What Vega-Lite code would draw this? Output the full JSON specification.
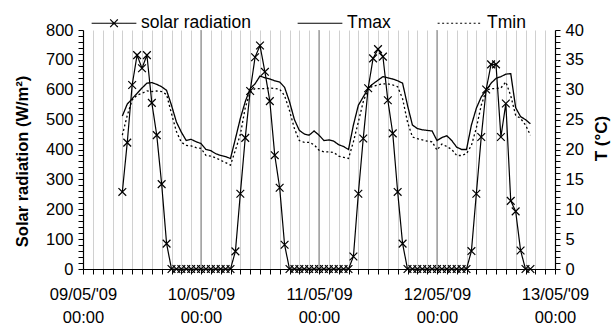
{
  "$schema": "https://vega.github.io/schema/vega-lite/v6.json",
  "autosize": {"type": "none"},
  "padding": {"left": 83, "top": 30, "right": 60, "bottom": 60},
  "width": 472,
  "height": 239,
  "background": "white",
  "config": {
    "font": "Liberation Sans",
    "view": {"stroke": null},
    "axis": {"labelFont": "Liberation Sans", "labelColor": "black", "titleColor": "black", "domainColor": "black", "tickColor": "black", "labelFontSize": 16.5}
  },
  "data": {"values": [
    {"t": "2009-05-09T08:00:00", "sr": 258, "Tmax": 25.6, "Tmin": 22.4},
    {"t": "2009-05-09T09:00:00", "sr": 423, "Tmax": 27.6, "Tmin": 25.7},
    {"t": "2009-05-09T10:00:00", "sr": 616, "Tmax": 28.5, "Tmin": 28.3},
    {"t": "2009-05-09T11:00:00", "sr": 716, "Tmax": 29.4, "Tmin": 29.1},
    {"t": "2009-05-09T12:00:00", "sr": 672, "Tmax": 30.3, "Tmin": 29.4},
    {"t": "2009-05-09T13:00:00", "sr": 716, "Tmax": 31.1, "Tmin": 29.8},
    {"t": "2009-05-09T14:00:00", "sr": 556, "Tmax": 31.2, "Tmin": 29.7},
    {"t": "2009-05-09T15:00:00", "sr": 448, "Tmax": 30.9, "Tmin": 29.8},
    {"t": "2009-05-09T16:00:00", "sr": 284, "Tmax": 30.5, "Tmin": 29.7},
    {"t": "2009-05-09T17:00:00", "sr": 85, "Tmax": 29.9, "Tmin": 29.2},
    {"t": "2009-05-09T18:00:00", "sr": 0, "Tmax": 27.4, "Tmin": 26.0},
    {"t": "2009-05-09T19:00:00", "sr": 0, "Tmax": 24.6, "Tmin": 23.0},
    {"t": "2009-05-09T20:00:00", "sr": 0, "Tmax": 22.9, "Tmin": 21.2},
    {"t": "2009-05-09T21:00:00", "sr": 0, "Tmax": 21.5, "Tmin": 20.7},
    {"t": "2009-05-09T22:00:00", "sr": 0, "Tmax": 21.7, "Tmin": 20.6},
    {"t": "2009-05-09T23:00:00", "sr": 0, "Tmax": 21.3, "Tmin": 20.3},
    {"t": "2009-05-10T00:00:00", "sr": 0, "Tmax": 21.0, "Tmin": 20.2},
    {"t": "2009-05-10T01:00:00", "sr": 0, "Tmax": 20.0, "Tmin": 19.0},
    {"t": "2009-05-10T02:00:00", "sr": 0, "Tmax": 19.8, "Tmin": 18.9},
    {"t": "2009-05-10T03:00:00", "sr": 0, "Tmax": 19.3, "Tmin": 18.6},
    {"t": "2009-05-10T04:00:00", "sr": 0, "Tmax": 19.0, "Tmin": 18.2},
    {"t": "2009-05-10T05:00:00", "sr": 0, "Tmax": 18.8, "Tmin": 17.8},
    {"t": "2009-05-10T06:00:00", "sr": 0, "Tmax": 18.5, "Tmin": 17.4},
    {"t": "2009-05-10T07:00:00", "sr": 59, "Tmax": 21.8, "Tmin": 19.9},
    {"t": "2009-05-10T08:00:00", "sr": 252, "Tmax": 25.2, "Tmin": 22.5},
    {"t": "2009-05-10T09:00:00", "sr": 439, "Tmax": 28.0, "Tmin": 27.0},
    {"t": "2009-05-10T10:00:00", "sr": 596, "Tmax": 30.2, "Tmin": 29.6},
    {"t": "2009-05-10T11:00:00", "sr": 709, "Tmax": 31.0, "Tmin": 30.2},
    {"t": "2009-05-10T12:00:00", "sr": 748, "Tmax": 32.3, "Tmin": 30.2},
    {"t": "2009-05-10T13:00:00", "sr": 660, "Tmax": 32.0, "Tmin": 30.2},
    {"t": "2009-05-10T14:00:00", "sr": 562, "Tmax": 31.8, "Tmin": 30.3},
    {"t": "2009-05-10T15:00:00", "sr": 381, "Tmax": 31.5, "Tmin": 30.2},
    {"t": "2009-05-10T16:00:00", "sr": 272, "Tmax": 31.3, "Tmin": 30.1},
    {"t": "2009-05-10T17:00:00", "sr": 81, "Tmax": 30.4, "Tmin": 29.0},
    {"t": "2009-05-10T18:00:00", "sr": 0, "Tmax": 28.0, "Tmin": 26.5},
    {"t": "2009-05-10T19:00:00", "sr": 0, "Tmax": 25.0, "Tmin": 23.5},
    {"t": "2009-05-10T20:00:00", "sr": 0, "Tmax": 23.2, "Tmin": 21.5},
    {"t": "2009-05-10T21:00:00", "sr": 0, "Tmax": 22.6, "Tmin": 21.2},
    {"t": "2009-05-10T22:00:00", "sr": 0, "Tmax": 22.4, "Tmin": 21.2},
    {"t": "2009-05-10T23:00:00", "sr": 0, "Tmax": 23.1, "Tmin": 20.8},
    {"t": "2009-05-11T00:00:00", "sr": 0, "Tmax": 22.4, "Tmin": 19.9},
    {"t": "2009-05-11T01:00:00", "sr": 0, "Tmax": 21.5, "Tmin": 19.6},
    {"t": "2009-05-11T02:00:00", "sr": 0, "Tmax": 21.6, "Tmin": 19.6},
    {"t": "2009-05-11T03:00:00", "sr": 0, "Tmax": 21.4, "Tmin": 19.5},
    {"t": "2009-05-11T04:00:00", "sr": 0, "Tmax": 20.8, "Tmin": 18.9},
    {"t": "2009-05-11T05:00:00", "sr": 0, "Tmax": 20.5, "Tmin": 18.7},
    {"t": "2009-05-11T06:00:00", "sr": 0, "Tmax": 20.0, "Tmin": 18.5},
    {"t": "2009-05-11T07:00:00", "sr": 42, "Tmax": 24.1, "Tmin": 21.3},
    {"t": "2009-05-11T08:00:00", "sr": 252, "Tmax": 27.4, "Tmin": 24.6},
    {"t": "2009-05-11T09:00:00", "sr": 437, "Tmax": 28.8, "Tmin": 28.0},
    {"t": "2009-05-11T10:00:00", "sr": 605, "Tmax": 30.2, "Tmin": 30.2},
    {"t": "2009-05-11T11:00:00", "sr": 705, "Tmax": 31.0, "Tmin": 30.6},
    {"t": "2009-05-11T12:00:00", "sr": 736, "Tmax": 31.6, "Tmin": 30.8},
    {"t": "2009-05-11T13:00:00", "sr": 711, "Tmax": 32.2, "Tmin": 31.0},
    {"t": "2009-05-11T14:00:00", "sr": 565, "Tmax": 32.0, "Tmin": 31.0},
    {"t": "2009-05-11T15:00:00", "sr": 454, "Tmax": 31.8, "Tmin": 30.8},
    {"t": "2009-05-11T16:00:00", "sr": 258, "Tmax": 31.5, "Tmin": 30.5},
    {"t": "2009-05-11T17:00:00", "sr": 85, "Tmax": 31.1, "Tmin": 28.5},
    {"t": "2009-05-11T18:00:00", "sr": 0, "Tmax": 27.4, "Tmin": 24.6},
    {"t": "2009-05-11T19:00:00", "sr": 0, "Tmax": 24.1, "Tmin": 22.1},
    {"t": "2009-05-11T20:00:00", "sr": 0, "Tmax": 23.5, "Tmin": 21.8},
    {"t": "2009-05-11T21:00:00", "sr": 0, "Tmax": 23.3, "Tmin": 21.6},
    {"t": "2009-05-11T22:00:00", "sr": 0, "Tmax": 23.2, "Tmin": 21.4},
    {"t": "2009-05-11T23:00:00", "sr": 0, "Tmax": 23.1, "Tmin": 21.3},
    {"t": "2009-05-12T00:00:00", "sr": 0, "Tmax": 21.5, "Tmin": 19.9},
    {"t": "2009-05-12T01:00:00", "sr": 0, "Tmax": 22.0, "Tmin": 20.9},
    {"t": "2009-05-12T02:00:00", "sr": 0, "Tmax": 22.3, "Tmin": 20.5},
    {"t": "2009-05-12T03:00:00", "sr": 0, "Tmax": 21.5, "Tmin": 20.0},
    {"t": "2009-05-12T04:00:00", "sr": 0, "Tmax": 20.4, "Tmin": 19.0},
    {"t": "2009-05-12T05:00:00", "sr": 0, "Tmax": 20.0, "Tmin": 19.0},
    {"t": "2009-05-12T06:00:00", "sr": 0, "Tmax": 20.0, "Tmin": 19.3},
    {"t": "2009-05-12T07:00:00", "sr": 60, "Tmax": 24.1, "Tmin": 20.7},
    {"t": "2009-05-12T08:00:00", "sr": 252, "Tmax": 26.9, "Tmin": 23.6},
    {"t": "2009-05-12T09:00:00", "sr": 442, "Tmax": 28.8, "Tmin": 27.4},
    {"t": "2009-05-12T10:00:00", "sr": 601, "Tmax": 29.9, "Tmin": 29.9},
    {"t": "2009-05-12T11:00:00", "sr": 685, "Tmax": 31.1, "Tmin": 30.2},
    {"t": "2009-05-12T12:00:00", "sr": 685, "Tmax": 31.9, "Tmin": 30.2},
    {"t": "2009-05-12T13:00:00", "sr": 442, "Tmax": 32.2, "Tmin": 30.3},
    {"t": "2009-05-12T14:00:00", "sr": 554, "Tmax": 32.6, "Tmin": 31.3},
    {"t": "2009-05-12T15:00:00", "sr": 228, "Tmax": 32.7, "Tmin": 29.0},
    {"t": "2009-05-12T16:00:00", "sr": 193, "Tmax": 27.0, "Tmin": 25.7},
    {"t": "2009-05-12T17:00:00", "sr": 62, "Tmax": 25.5, "Tmin": 25.2},
    {"t": "2009-05-12T18:00:00", "sr": 0, "Tmax": 25.0, "Tmin": 24.1},
    {"t": "2009-05-12T19:00:00", "sr": 0, "Tmax": 24.3, "Tmin": 22.4}
  ]},
  "encoding": {
    "x": {
      "field": "t", "type": "temporal",
      "scale": {"domain": [{"year": 2009, "month": 5, "date": 9, "hours": 0}, {"year": 2009, "month": 5, "date": 13, "hours": 0}], "nice": false},
      "axis": {
        "orient": "bottom", "title": null,
        "values": [
          {"year": 2009, "month": 5, "date": 9, "hours": 0}, {"year": 2009, "month": 5, "date": 9, "hours": 2}, {"year": 2009, "month": 5, "date": 9, "hours": 4}, {"year": 2009, "month": 5, "date": 9, "hours": 6}, {"year": 2009, "month": 5, "date": 9, "hours": 8}, {"year": 2009, "month": 5, "date": 9, "hours": 10}, {"year": 2009, "month": 5, "date": 9, "hours": 12}, {"year": 2009, "month": 5, "date": 9, "hours": 14}, {"year": 2009, "month": 5, "date": 9, "hours": 16}, {"year": 2009, "month": 5, "date": 9, "hours": 18}, {"year": 2009, "month": 5, "date": 9, "hours": 20}, {"year": 2009, "month": 5, "date": 9, "hours": 22},
          {"year": 2009, "month": 5, "date": 10, "hours": 0}, {"year": 2009, "month": 5, "date": 10, "hours": 2}, {"year": 2009, "month": 5, "date": 10, "hours": 4}, {"year": 2009, "month": 5, "date": 10, "hours": 6}, {"year": 2009, "month": 5, "date": 10, "hours": 8}, {"year": 2009, "month": 5, "date": 10, "hours": 10}, {"year": 2009, "month": 5, "date": 10, "hours": 12}, {"year": 2009, "month": 5, "date": 10, "hours": 14}, {"year": 2009, "month": 5, "date": 10, "hours": 16}, {"year": 2009, "month": 5, "date": 10, "hours": 18}, {"year": 2009, "month": 5, "date": 10, "hours": 20}, {"year": 2009, "month": 5, "date": 10, "hours": 22},
          {"year": 2009, "month": 5, "date": 11, "hours": 0}, {"year": 2009, "month": 5, "date": 11, "hours": 2}, {"year": 2009, "month": 5, "date": 11, "hours": 4}, {"year": 2009, "month": 5, "date": 11, "hours": 6}, {"year": 2009, "month": 5, "date": 11, "hours": 8}, {"year": 2009, "month": 5, "date": 11, "hours": 10}, {"year": 2009, "month": 5, "date": 11, "hours": 12}, {"year": 2009, "month": 5, "date": 11, "hours": 14}, {"year": 2009, "month": 5, "date": 11, "hours": 16}, {"year": 2009, "month": 5, "date": 11, "hours": 18}, {"year": 2009, "month": 5, "date": 11, "hours": 20}, {"year": 2009, "month": 5, "date": 11, "hours": 22},
          {"year": 2009, "month": 5, "date": 12, "hours": 0}, {"year": 2009, "month": 5, "date": 12, "hours": 2}, {"year": 2009, "month": 5, "date": 12, "hours": 4}, {"year": 2009, "month": 5, "date": 12, "hours": 6}, {"year": 2009, "month": 5, "date": 12, "hours": 8}, {"year": 2009, "month": 5, "date": 12, "hours": 10}, {"year": 2009, "month": 5, "date": 12, "hours": 12}, {"year": 2009, "month": 5, "date": 12, "hours": 14}, {"year": 2009, "month": 5, "date": 12, "hours": 16}, {"year": 2009, "month": 5, "date": 12, "hours": 18}, {"year": 2009, "month": 5, "date": 12, "hours": 20}, {"year": 2009, "month": 5, "date": 12, "hours": 22},
          {"year": 2009, "month": 5, "date": 13, "hours": 0}
        ],
        "format": "%d/%m/'%y|%H:%M",
        "labelExpr": "hours(datum.value) === 0 ? split(datum.label, '|') : ''",
        "labelOverlap": false, "labelFlush": false, "labelBound": false,
        "labelLineHeight": 23, "labelPadding": 12,
        "tickSize": 5,
        "grid": true, "gridColor": "#d0d0d0",
        "domainWidth": 1.2
      }
    }
  },
  "layer": [
    {
      "data": {"values": [{"d": "2009-05-10T00:00:00"}, {"d": "2009-05-11T00:00:00"}, {"d": "2009-05-12T00:00:00"}]},
      "mark": {"type": "rule", "color": "#7a7a7a", "strokeWidth": 1},
      "encoding": {"x": {"field": "d", "type": "temporal"}}
    },
    {
      "transform": [{"fold": ["sr"], "as": ["series", "value"]}],
      "encoding": {
        "y": {
          "field": "value", "type": "quantitative",
          "scale": {"domain": [0, 800], "nice": false},
          "axis": {
            "orient": "left",
            "title": "Solar radiation (W/m²)",
            "titleFontSize": 16.5, "titleFontWeight": "bold",
            "titleX": -61, "titleY": 131, "titleAngle": -90, "titleBaseline": "middle", "titleAlign": "center",
            "values": [0,20,40,60,80,100,120,140,160,180,200,220,240,260,280,300,320,340,360,380,400,420,440,460,480,500,520,540,560,580,600,620,640,660,680,700,720,740,760,780,800],
            "labelExpr": "datum.value % 100 === 0 ? datum.label : ''",
            "labelOverlap": false,
            "tickSize": 5, "labelPadding": 5,
            "grid": false,
            "domainWidth": 1.2
          }
        }
      },
      "layer": [
        {
          "data": {"values": [{"g": 100}, {"g": 200}, {"g": 300}, {"g": 400}, {"g": 500}, {"g": 600}, {"g": 700}, {"g": 800}]},
          "mark": {"type": "rule", "color": "#a8a8a8", "strokeWidth": 1},
          "encoding": {"y": {"field": "g", "type": "quantitative"}}
        },
        {
          "mark": {"type": "line", "color": "black", "strokeWidth": 1.2},
          "encoding": {
            "strokeDash": {
              "field": "series", "type": "nominal",
              "scale": {"domain": ["sr", "Tmax", "Tmin"], "range": [[1, 0], [1, 0], [2, 2.5]]},
              "legend": {
                "orient": "none", "legendX": 8, "legendY": -30,
                "direction": "horizontal", "title": null,
                "labelExpr": "datum.label === 'sr' ? 'solar radiation' : datum.label",
                "symbolType": "stroke", "symbolSize": 2000, "symbolStrokeWidth": 1.2, "symbolStrokeColor": "black",
                "labelFontSize": 17.5, "labelColor": "black",
                "labelOffset": 4, "columnPadding": 44,
                "encode": {"symbols": {"update": {"shape": {"signal": "datum.value === 'sr' ? 'M-1,0L1,0M-0.17,-0.17L0.17,0.17M-0.17,0.17L0.17,-0.17' : 'stroke'"}}}}
              }
            }
          }
        },
        {
          "mark": {"type": "point", "shape": "M-1,-1L1,1M-1,1L1,-1", "size": 60, "stroke": "black", "filled": false, "strokeWidth": 1.2, "opacity": 1}
        }
      ]
    },
    {
      "transform": [{"fold": ["Tmax", "Tmin"], "as": ["series", "value"]}],
      "mark": {"type": "line", "strokeWidth": 1.3, "color": "black"},
      "encoding": {
        "y": {
          "field": "value", "type": "quantitative",
          "scale": {"domain": [0, 40], "nice": false},
          "axis": {
            "orient": "right",
            "title": "T (°C)",
            "titleFontSize": 17, "titleFontWeight": "bold",
            "titleX": 46, "titleY": 108, "titleAngle": -90, "titleBaseline": "middle", "titleAlign": "center",
            "values": [0,1,2,3,4,5,6,7,8,9,10,11,12,13,14,15,16,17,18,19,20,21,22,23,24,25,26,27,28,29,30,31,32,33,34,35,36,37,38,39,40],
            "labelExpr": "datum.value % 5 === 0 ? datum.label : ''",
            "labelOverlap": false,
            "tickSize": 5, "labelPadding": 5,
            "grid": false,
            "domainWidth": 1.2
          }
        },
        "strokeDash": {"field": "series", "type": "nominal"}
      }
    }
  ],
  "resolve": {"scale": {"y": "independent"}}
}
